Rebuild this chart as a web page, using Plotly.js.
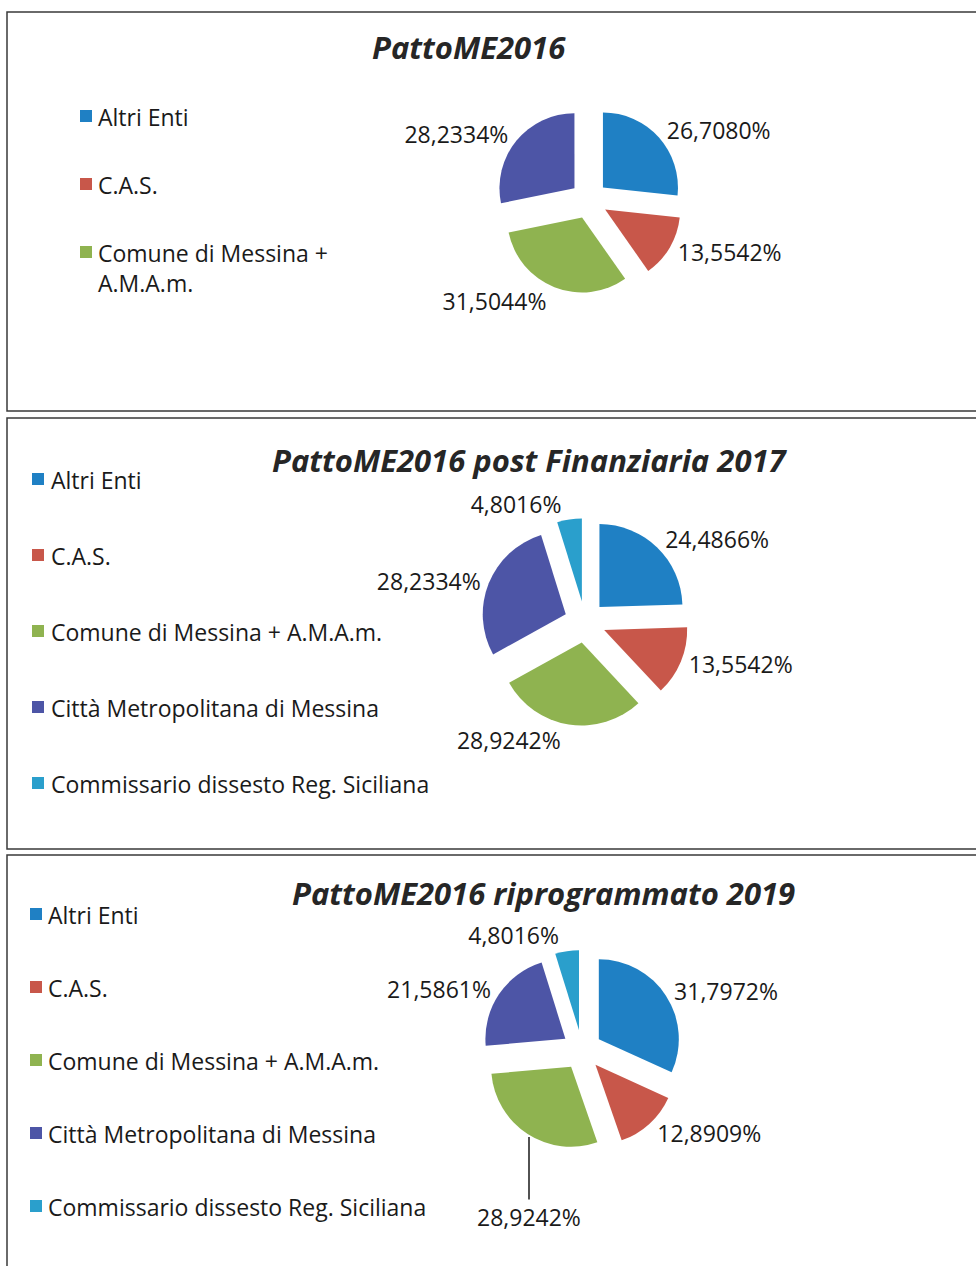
<!DOCTYPE html>
<html>
<head>
<meta charset="utf-8">
<script src="https://cdn.plot.ly/plotly-3.0.1.min.js"></script>
<style>
  html, body { margin: 0; padding: 0; background: #ffffff; }
  #chart { width: 976px; height: 1266px; }
</style>
</head>
<body>
<div id="chart"></div>
<script>
// ---------------- DATA ----------------
const categories = [
  'Altri Enti',
  'C.A.S.',
  'Comune di Messina + A.M.A.m.',
  'Città Metropolitana di Messina',
  'Commissario dissesto Reg. Siciliana'
];
const sliceColors = ['#1f80c4', '#c8574a', '#8fb350', '#4d55a6', '#2a9fcc'];

const title1 = 'PattoME2016';
const title2 = 'PattoME2016 post Finanziaria 2017';
const title3 = 'PattoME2016 riprogrammato 2019';

const values1 = [26.7080, 13.5542, 31.5044, 28.2334];
const values2 = [24.4866, 13.5542, 28.9242, 28.2334, 4.8016];
const values3 = [31.7972, 12.8909, 28.9242, 21.5861, 4.8016];

// legend entries shown in each panel (panel 1 legend is truncated in the original)
const legend1 = ['Altri Enti', 'C.A.S.', 'Comune di Messina +<br>A.M.A.m.'];
const legend2 = categories;
const legend3 = categories;

// ---------------- LAYOUT HELPERS ----------------
const W = 976, H = 1266;
const px = x => x / W;
const py = y => 1 - y / H;
const FONT = 'Open Sans, Liberation Sans, sans-serif';
const PULL = 0.25;
const fmt = v => v.toFixed(4).replace('.', ',') + '%';

function pieTrace(vals, cx, cy, r, leaderIndex) {
  const s = 2 * r * (1 + PULL);
  return {
    type: 'pie',
    labels: categories.slice(0, vals.length),
    values: vals,
    sort: false,
    direction: 'clockwise',
    rotation: 0,
    pull: vals.map(() => PULL),
    marker: { colors: sliceColors.slice(0, vals.length), line: { width: 0 } },
    textposition: 'outside',
    texttemplate: vals.map((v, i) => i === leaderIndex ? '' : '%{value:.4f}%'),
    textfont: { family: FONT, size: 23, color: '#1a1a1a' },
    outsidetextfont: { family: FONT, size: 23, color: '#1a1a1a' },
    hoverinfo: 'skip',
    showlegend: false,
    automargin: false,
    domain: {
      x: [px(cx - s / 2), px(cx + s / 2)],
      y: [py(cy + s / 2), py(cy - s / 2)]
    }
  };
}

const data = [
  pieTrace(values1, 589, 200, 75, -1),
  pieTrace(values2, 585, 622, 83, -1),
  pieTrace(values3, 582, 1050, 80, 2)
];

const shapes = [];
const annotations = [];

// panel frames
[[12, 411], [418, 849], [855, 1272]].forEach(([t, b]) => {
  shapes.push({
    type: 'rect', xref: 'paper', yref: 'paper',
    x0: px(7), x1: px(990), y0: py(b), y1: py(t),
    line: { color: '#3a3a3a', width: 1.5 }, fillcolor: 'rgba(0,0,0,0)'
  });
});

// titles
[[title1, 469, 47], [title2, 530, 460], [title3, 543, 893]].forEach(([txt, x, y]) => {
  annotations.push({
    xref: 'paper', yref: 'paper', x: px(x), y: py(y),
    xanchor: 'center', yanchor: 'middle', showarrow: false,
    text: txt,
    font: { family: FONT, size: 31, color: '#262626', weight: 'bold', style: 'italic' }
  });
});

// data label with leader line (panel 3, Comune di Messina slice)
annotations.push({
  xref: 'paper', yref: 'paper', x: px(529), y: py(1137),
  ax: 0, ay: 80, showarrow: true, arrowhead: 0, arrowwidth: 1.5,
  arrowcolor: '#1a1a1a', standoff: 0,
  text: fmt(values3[2]),
  font: { family: FONT, size: 23, color: '#1a1a1a' }
});

// legends
function addLegend(items, sqX, textX, y0, step) {
  items.forEach((label, i) => {
    const yc = y0 + i * step;
    shapes.push({
      type: 'rect', xref: 'paper', yref: 'paper',
      x0: px(sqX), x1: px(sqX + 12), y0: py(yc + 6), y1: py(yc - 6),
      line: { width: 0 }, fillcolor: sliceColors[i]
    });
    annotations.push({
      xref: 'paper', yref: 'paper', x: px(textX), y: py(yc - 17),
      xanchor: 'left', yanchor: 'top', align: 'left', showarrow: false,
      text: label,
      font: { family: FONT, size: 23, color: '#1a1a1a' }
    });
  });
}
addLegend(legend1, 80, 96, 116, 68);
addLegend(legend2, 32, 49, 479, 76);
addLegend(legend3, 30, 46, 914, 73);

const layout = {
  width: W, height: H,
  margin: { l: 0, r: 0, t: 0, b: 0 },
  paper_bgcolor: '#ffffff',
  separators: ',.',
  showlegend: false,
  shapes: shapes,
  annotations: annotations
};

Plotly.newPlot('chart', data, layout, { displayModeBar: false, staticPlot: true });
</script>
</body>
</html>
